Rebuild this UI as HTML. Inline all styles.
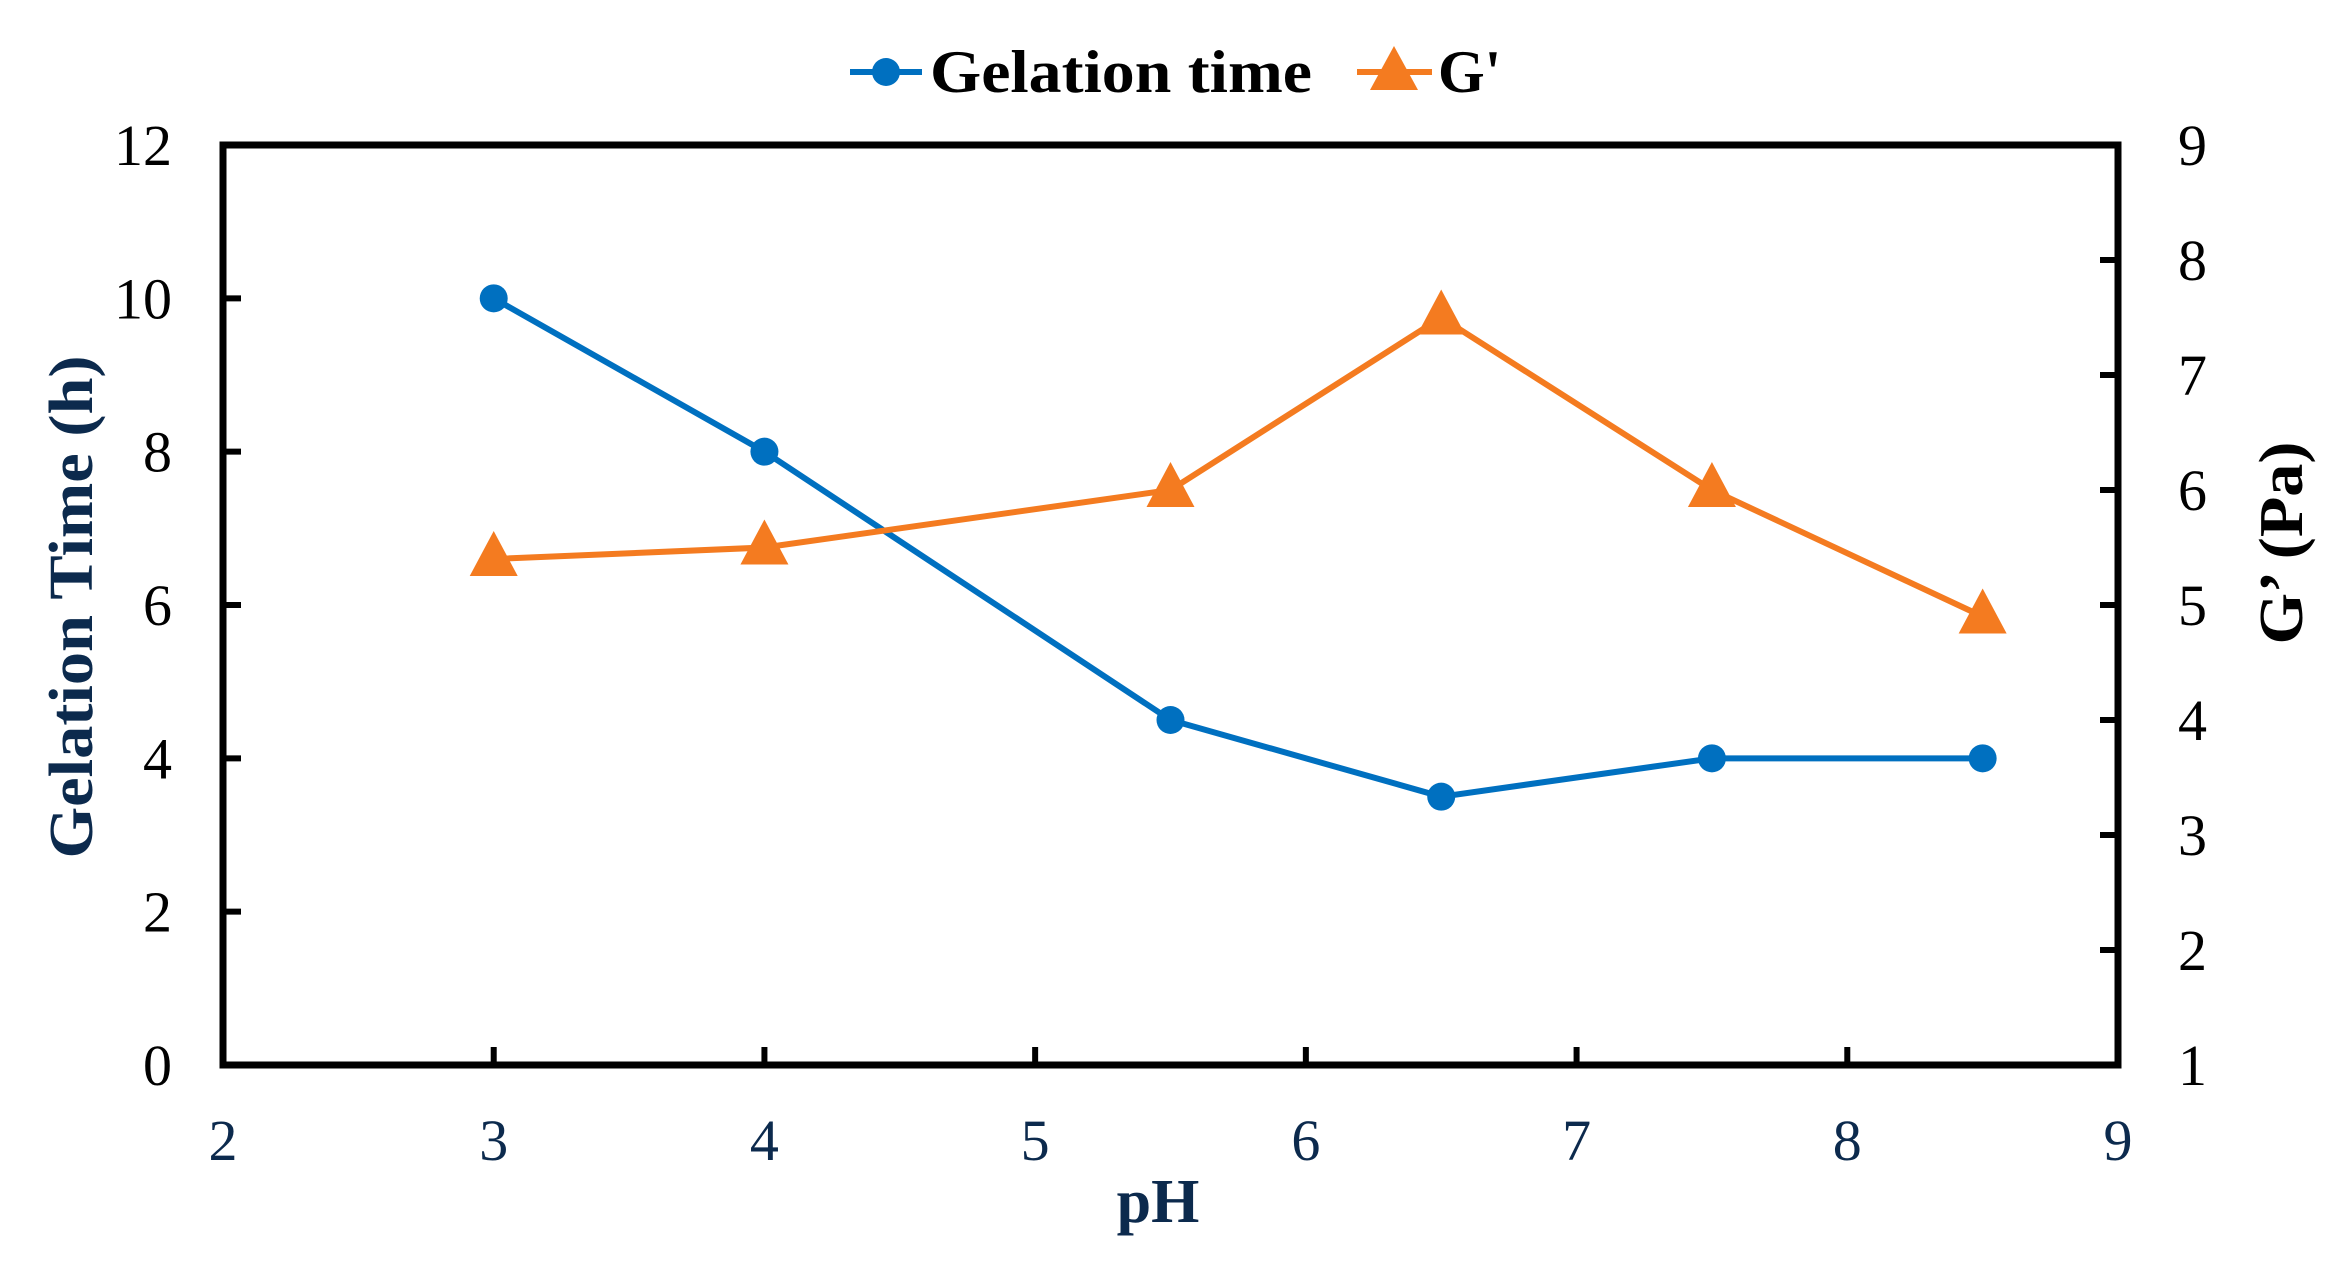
<!DOCTYPE html>
<html><head><meta charset="utf-8"><style>html,body{margin:0;padding:0;background:#fff;}svg{display:block;}</style></head>
<body>
<svg id="chart" width="2338" height="1280" viewBox="0 0 2338 1280" xmlns="http://www.w3.org/2000/svg" font-family="'Liberation Serif', serif"></svg>
<script>
const phValues = [3, 4, 5.5, 6.5, 7.5, 8.5];
const gelationTime = [10, 8, 4.5, 3.5, 4, 4];
const gPrime = [5.4, 5.5, 6, 7.5, 6, 4.9];
const xTicks = [2, 3, 4, 5, 6, 7, 8, 9];
const yLeftTicks = [0, 2, 4, 6, 8, 10, 12];
const yRightTicks = [1, 2, 3, 4, 5, 6, 7, 8, 9];

const L = 223, R = 2118, T = 145, B = 1065;
const xS = v => L + (v - 2) / 7 * (R - L);
const yL = v => B - v / 12 * (B - T);
const yR = v => B - (v - 1) / 8 * (B - T);
const NS = 'http://www.w3.org/2000/svg';
const svg = document.getElementById('chart');
function mk(tag, attrs, parent) {
  const e = document.createElementNS(NS, tag);
  for (const k in attrs) e.setAttribute(k, attrs[k]);
  (parent || svg).appendChild(e);
  return e;
}
const navy = '#0c2a4d';

const ticks = mk('g', {});


yLeftTicks.forEach(v => {
  mk('line', {x1: L, x2: L + 18, y1: yL(v), y2: yL(v), stroke: '#000', 'stroke-width': 6}, ticks);
  const t = mk('text', {x: 172, y: yL(v) + 20, 'text-anchor': 'end', 'font-size': 58, fill: '#000'});
  t.textContent = v;
  
  
});
yRightTicks.forEach(v => {
  mk('line', {x1: R - 18, x2: R, y1: yR(v), y2: yR(v), stroke: '#000', 'stroke-width': 6}, ticks);
  const t = mk('text', {x: 2178, y: yR(v) + 20, 'text-anchor': 'start', 'font-size': 58, fill: '#000'});
  t.textContent = v;
  
  
});
xTicks.forEach(v => {
  mk('line', {x1: xS(v), x2: xS(v), y1: B, y2: B - 18, stroke: '#000', 'stroke-width': 6}, ticks);
  const t = mk('text', {x: xS(v), y: 1160, 'text-anchor': 'middle', 'font-size': 58, fill: navy});
  t.textContent = v;
  
  
});

const frame = mk('rect', {x: L, y: T, width: R - L, height: B - T, fill: 'none', stroke: '#000', 'stroke-width': 7});



const gl = mk('polyline', {points: phValues.map((p, i) => xS(p) + ',' + yL(gelationTime[i])).join(' '), fill: 'none', stroke: '#0070c0', 'stroke-width': 6});


phValues.forEach((p, i) => {
  const c = mk('circle', {cx: xS(p), cy: yL(gelationTime[i]), r: 14, fill: '#0070c0'});
  
  
});
const gp = mk('polyline', {points: phValues.map((p, i) => xS(p) + ',' + yR(gPrime[i])).join(' '), fill: 'none', stroke: '#f47b20', 'stroke-width': 6});


phValues.forEach((p, i) => {
  const x = xS(p), y = yR(gPrime[i]);
  const tr = mk('polygon', {points: `${x},${y - 28} ${x - 24},${y + 17} ${x + 24},${y + 17}`, fill: '#f47b20'});
  
  
});
</script>
<script>
(function(){
  const NS = 'http://www.w3.org/2000/svg';
  const svg = document.getElementById('chart');
  function mk(tag, attrs) { const e = document.createElementNS(NS, tag); for (const k in attrs) e.setAttribute(k, attrs[k]); svg.appendChild(e); return e; }
  const navy = '#0c2a4d';
  const xt = mk('text', {x: 1158, y: 1222, 'text-anchor': 'middle', 'font-size': 62, 'font-weight': 'bold', fill: navy});
  xt.textContent = 'pH';
  
  
  const yt = mk('text', {x: 0, y: 0, 'text-anchor': 'middle', 'font-size': 62, 'font-weight': 'bold', fill: navy, transform: 'translate(92,607) rotate(-90)', textLength: 503, lengthAdjust: 'spacingAndGlyphs'});
  yt.textContent = 'Gelation Time (h)';
  
  
  const rt = mk('text', {x: 0, y: 0, 'text-anchor': 'middle', 'font-size': 62, 'font-weight': 'bold', fill: '#000', transform: 'translate(2302,543) rotate(-90)', textLength: 203, lengthAdjust: 'spacingAndGlyphs'});
  rt.textContent = 'G’ (Pa)';
  
  
  const l1 = mk('line', {x1: 850, x2: 922, y1: 72, y2: 72, stroke: '#0070c0', 'stroke-width': 6});
   
  const c1 = mk('circle', {cx: 886, cy: 72, r: 14, fill: '#0070c0'});
   
  const t1 = mk('text', {x: 930, y: 92, 'font-size': 60, 'font-weight': 'bold', fill: '#000', textLength: 382, lengthAdjust: 'spacingAndGlyphs'});
  t1.textContent = 'Gelation time';
   
  const l2 = mk('line', {x1: 1357, x2: 1432, y1: 72, y2: 72, stroke: '#f47b20', 'stroke-width': 6});
   
  const p2 = mk('polygon', {points: '1394,46 1370,90 1418,90', fill: '#f47b20'});
   
  const t2 = mk('text', {x: 1438, y: 92, 'font-size': 60, 'font-weight': 'bold', fill: '#000'});
  t2.textContent = "G'";
   
})();
</script>
</body></html>
